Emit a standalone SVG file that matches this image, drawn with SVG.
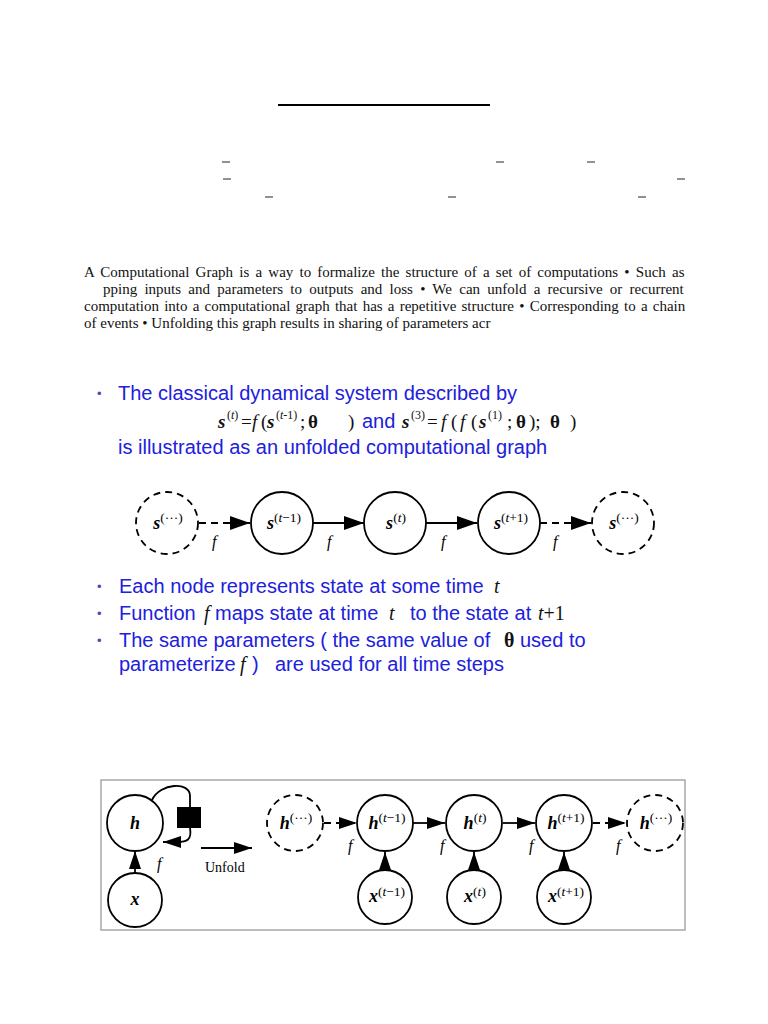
<svg xmlns="http://www.w3.org/2000/svg" width="768" height="1024" viewBox="0 0 768 1024">
<style>
.para{font-family:"Liberation Serif","Times New Roman",serif;font-size:15px;fill:#111}
.blue{font-family:"Liberation Sans",Arial,sans-serif;font-size:20px;fill:#2020dd}
.bul{font-family:"Liberation Sans",Arial,sans-serif;font-size:13px;fill:#4a4ab0}
.math{font-family:"Liberation Serif","Times New Roman",serif;font-size:19px;fill:#111}
.sup{font-family:"Liberation Serif","Times New Roman",serif;font-size:12px;fill:#111}
.mathb{font-family:"Liberation Serif","Times New Roman",serif;font-size:20px;fill:#111}
.bi{font-weight:bold;font-style:italic}
.it{font-style:italic}
.bd{font-weight:bold}
.node{fill:#fff;stroke:#000;stroke-width:1.8}
.dnode{fill:#fff;stroke:#000;stroke-width:1.8;stroke-dasharray:7,5}
.lbl{font-family:"Liberation Serif","Times New Roman",serif;font-size:18px;fill:#000;text-anchor:middle}
.ls{font-size:13.5px}
.flbl{font-family:"Liberation Serif","Times New Roman",serif;font-size:16px;font-style:italic;fill:#000}
.edge{fill:none;stroke:#000;stroke-width:1.8}
.dedge{fill:none;stroke:#000;stroke-width:1.8;stroke-dasharray:7,5}
.dash{stroke:#555;stroke-width:1.3}
</style>
<defs>
<marker id="ah" viewBox="0 0 20 14" refX="20" refY="7" markerWidth="20" markerHeight="14" markerUnits="userSpaceOnUse" orient="auto"><path d="M0,0 L20,7 L0,14 z" fill="#000"/></marker>
<marker id="ah2" viewBox="0 0 18 12" refX="18" refY="6" markerWidth="18" markerHeight="12" markerUnits="userSpaceOnUse" orient="auto"><path d="M0,0 L18,6 L0,12 z" fill="#000"/></marker>
</defs>
<rect width="768" height="1024" fill="#fff"/>

<!-- header rule and stray dashes -->
<line x1="278" y1="105" x2="490" y2="105" stroke="#000" stroke-width="2.2"/>
<g id="dashes">
<line class="dash" x1="222" y1="162" x2="230" y2="162"/>
<line class="dash" x1="496" y1="162" x2="504" y2="162"/>
<line class="dash" x1="587" y1="162" x2="595" y2="162"/>
<line class="dash" x1="223" y1="179" x2="231" y2="179"/>
<line class="dash" x1="677" y1="179" x2="685" y2="179"/>
<line class="dash" x1="265" y1="197" x2="273" y2="197"/>
<line class="dash" x1="448" y1="197" x2="456" y2="197"/>
<line class="dash" x1="638" y1="197" x2="646" y2="197"/>
</g>

<!-- paragraph -->
<text class="para" x="84" y="277" word-spacing="2.45">A Computational Graph is a way to formalize the structure of a set of computations • Such as</text>
<text class="para" x="103" y="294" word-spacing="3.5">pping inputs and parameters to outputs and loss • We can unfold a recursive or recurrent</text>
<text class="para" x="84" y="311" word-spacing="1.45">computation into a computational graph that has a repetitive structure • Corresponding to a chain</text>
<text class="para" x="84" y="328">of events • Unfolding this graph results in sharing of parameters acr</text>

<!-- blue intro -->
<text class="bul" x="97" y="398">•</text>
<text class="blue" x="118" y="400">The classical dynamical system described by</text>
<g id="formula">
<text x="218" y="428" class="math bi">s</text>
<text x="227" y="419" class="sup">(<tspan class="it">t</tspan>)</text>
<text x="241" y="428" class="math">=</text>
<text x="252" y="428" class="math it">f</text>
<text x="261" y="428" class="math">(</text>
<text x="267" y="428" class="math bi">s</text>
<text x="276" y="419" class="sup">(<tspan class="it">t</tspan>-1)</text>
<text x="300" y="428" class="math">;</text>
<text x="308" y="428" class="math bd">θ</text>
<text x="348" y="428" class="math">)</text>
<text x="362" y="428" class="blue">and</text>
<text x="402" y="428" class="math bi">s</text>
<text x="411" y="419" class="sup">(3)</text>
<text x="427" y="428" class="math">=</text>
<text x="441" y="428" class="math it">f</text>
<text x="451" y="428" class="math">(</text>
<text x="460" y="428" class="math it">f</text>
<text x="471" y="428" class="math">(</text>
<text x="479" y="428" class="math bi">s</text>
<text x="488" y="419" class="sup">(1)</text>
<text x="507" y="428" class="math">;</text>
<text x="516" y="428" class="math bd">θ</text>
<text x="529" y="428" class="math">);</text>
<text x="550" y="428" class="math bd">θ</text>
<text x="570" y="428" class="math">)</text>
</g>
<text class="blue" x="118" y="454">is illustrated as an unfolded computational graph</text>

<!-- top chain -->
<g id="chain1-edges">
<path class="dedge" d="M199,523 L250,523" marker-end="url(#ah)"/>
<path class="edge" d="M313,523 L364,523" marker-end="url(#ah)"/>
<path class="edge" d="M426,523 L477,523" marker-end="url(#ah)"/>
<path class="dedge" d="M540,523 L591,523" marker-end="url(#ah)"/>
<text class="flbl" x="212" y="547">f</text>
<text class="flbl" x="327" y="547">f</text>
<text class="flbl" x="441" y="547">f</text>
<text class="flbl" x="553" y="547">f</text>
</g>
<g id="s-prev"><circle class="dnode" cx="167" cy="523" r="31"/><text class="lbl" x="168" y="529"><tspan class="bi">s</tspan><tspan class="ls" dy="-7">(···)</tspan></text></g>
<g id="s-tm1"><circle class="node" cx="282" cy="523" r="31"/><text class="lbl" x="284" y="529"><tspan class="bi">s</tspan><tspan class="ls" dy="-7">(<tspan class="it">t</tspan>−1)</tspan></text></g>
<g id="s-t"><circle class="node" cx="395" cy="523" r="31"/><text class="lbl" x="396" y="529"><tspan class="bi">s</tspan><tspan class="ls" dy="-7">(<tspan class="it">t</tspan>)</tspan></text></g>
<g id="s-tp1"><circle class="node" cx="509" cy="523" r="31"/><text class="lbl" x="511" y="529"><tspan class="bi">s</tspan><tspan class="ls" dy="-7">(<tspan class="it">t</tspan>+1)</tspan></text></g>
<g id="s-next"><circle class="dnode" cx="623" cy="523" r="31"/><text class="lbl" x="624" y="529"><tspan class="bi">s</tspan><tspan class="ls" dy="-7">(···)</tspan></text></g>

<!-- bullets -->
<text class="bul" x="97" y="591">•</text>
<text class="blue" x="119" y="593">Each node represents state at some time</text>
<text class="mathb it" x="494" y="593">t</text>

<text class="bul" x="97" y="618">•</text>
<text class="blue" x="119" y="620">Function</text>
<text class="mathb it" x="204" y="620">f</text>
<text class="blue" x="215" y="620">maps state at time</text>
<text class="mathb it" x="389" y="620">t</text>
<text class="blue" x="410" y="620">to the state at</text>
<text class="mathb" x="538" y="620"><tspan class="it">t</tspan>+1</text>

<text class="bul" x="97" y="645">•</text>
<text class="blue" x="119" y="647">The same parameters ( the same value of</text>
<text class="mathb bd" x="504" y="647">θ</text>
<text class="blue" x="520" y="647">used to</text>
<text class="blue" x="119" y="671">parameterize</text>
<text class="mathb it" x="240" y="671">f</text>
<text class="blue" x="252" y="671">)</text>
<text class="blue" x="275" y="671">are used for all time steps</text>

<!-- bottom figure frame -->
<rect x="101" y="780" width="584" height="150" fill="none" stroke="#9a9a9a" stroke-width="1.3"/>

<g id="chain2-edges">
<path class="edge" d="M152,800 C160,783 190,781 190,796 L190,807"/>
<path class="edge" d="M190,828 C192,840 187,842 177,842 L163,842" marker-end="url(#ah2)"/>
<path class="edge" d="M135,873 L135,851" marker-end="url(#ah2)"/>
<path class="edge" d="M201,848 L252,848" marker-end="url(#ah2)"/>
<path class="dedge" d="M324,823 L357,823" stroke-dasharray="6,6" marker-end="url(#ah2)"/>
<path class="edge" d="M413,823 L445,823" marker-end="url(#ah2)"/>
<path class="edge" d="M503,823 L535,823" marker-end="url(#ah2)"/>
<path class="dedge" d="M593,823 L626,823" stroke-dasharray="7,8" marker-end="url(#ah2)"/>
<path class="edge" d="M385,869 L385,852" marker-end="url(#ah2)"/>
<path class="edge" d="M474,869 L474,852" marker-end="url(#ah2)"/>
<path class="edge" d="M564,869 L564,852" marker-end="url(#ah2)"/>
<text class="flbl" x="157" y="869">f</text>
<text class="flbl" x="348" y="851">f</text>
<text class="flbl" x="440" y="851">f</text>
<text class="flbl" x="529" y="851">f</text>
<text class="flbl" x="616" y="851">f</text>
<text x="205" y="872" font-family="Liberation Serif, Times New Roman, serif" font-size="14" fill="#000">Unfold</text>
</g>
<g id="h-loop"><circle class="node" cx="135" cy="823" r="28"/><text class="lbl" x="135" y="829"><tspan class="bi">h</tspan></text></g>
<g id="delay"><rect x="177" y="807" width="24" height="21" fill="#000"/></g>
<g id="x-loop"><circle class="node" cx="135" cy="900" r="27"/><text class="lbl" x="135" y="905"><tspan class="bi">x</tspan></text></g>
<g id="h-prev"><circle class="dnode" cx="295" cy="823" r="28"/><text class="lbl" x="296" y="829"><tspan class="bi">h</tspan><tspan class="ls" dy="-7">(···)</tspan></text></g>
<g id="h-tm1"><circle class="node" cx="385" cy="823" r="28"/><text class="lbl" x="387" y="829"><tspan class="bi">h</tspan><tspan class="ls" dy="-7">(<tspan class="it">t</tspan>−1)</tspan></text></g>
<g id="h-t"><circle class="node" cx="474" cy="823" r="28"/><text class="lbl" x="475" y="829"><tspan class="bi">h</tspan><tspan class="ls" dy="-7">(<tspan class="it">t</tspan>)</tspan></text></g>
<g id="h-tp1"><circle class="node" cx="564" cy="823" r="28"/><text class="lbl" x="566" y="829"><tspan class="bi">h</tspan><tspan class="ls" dy="-7">(<tspan class="it">t</tspan>+1)</tspan></text></g>
<g id="h-next"><circle class="dnode" cx="655" cy="823" r="28"/><text class="lbl" x="656" y="829"><tspan class="bi">h</tspan><tspan class="ls" dy="-7">(···)</tspan></text></g>
<g id="x-tm1"><circle class="node" cx="385" cy="897" r="27"/><text class="lbl" x="387" y="902"><tspan class="bi">x</tspan><tspan class="ls" dy="-6">(<tspan class="it">t</tspan>−1)</tspan></text></g>
<g id="x-t"><circle class="node" cx="474" cy="897" r="27"/><text class="lbl" x="475" y="902"><tspan class="bi">x</tspan><tspan class="ls" dy="-6">(<tspan class="it">t</tspan>)</tspan></text></g>
<g id="x-tp1"><circle class="node" cx="564" cy="897" r="27"/><text class="lbl" x="566" y="902"><tspan class="bi">x</tspan><tspan class="ls" dy="-6">(<tspan class="it">t</tspan>+1)</tspan></text></g>
</svg>
